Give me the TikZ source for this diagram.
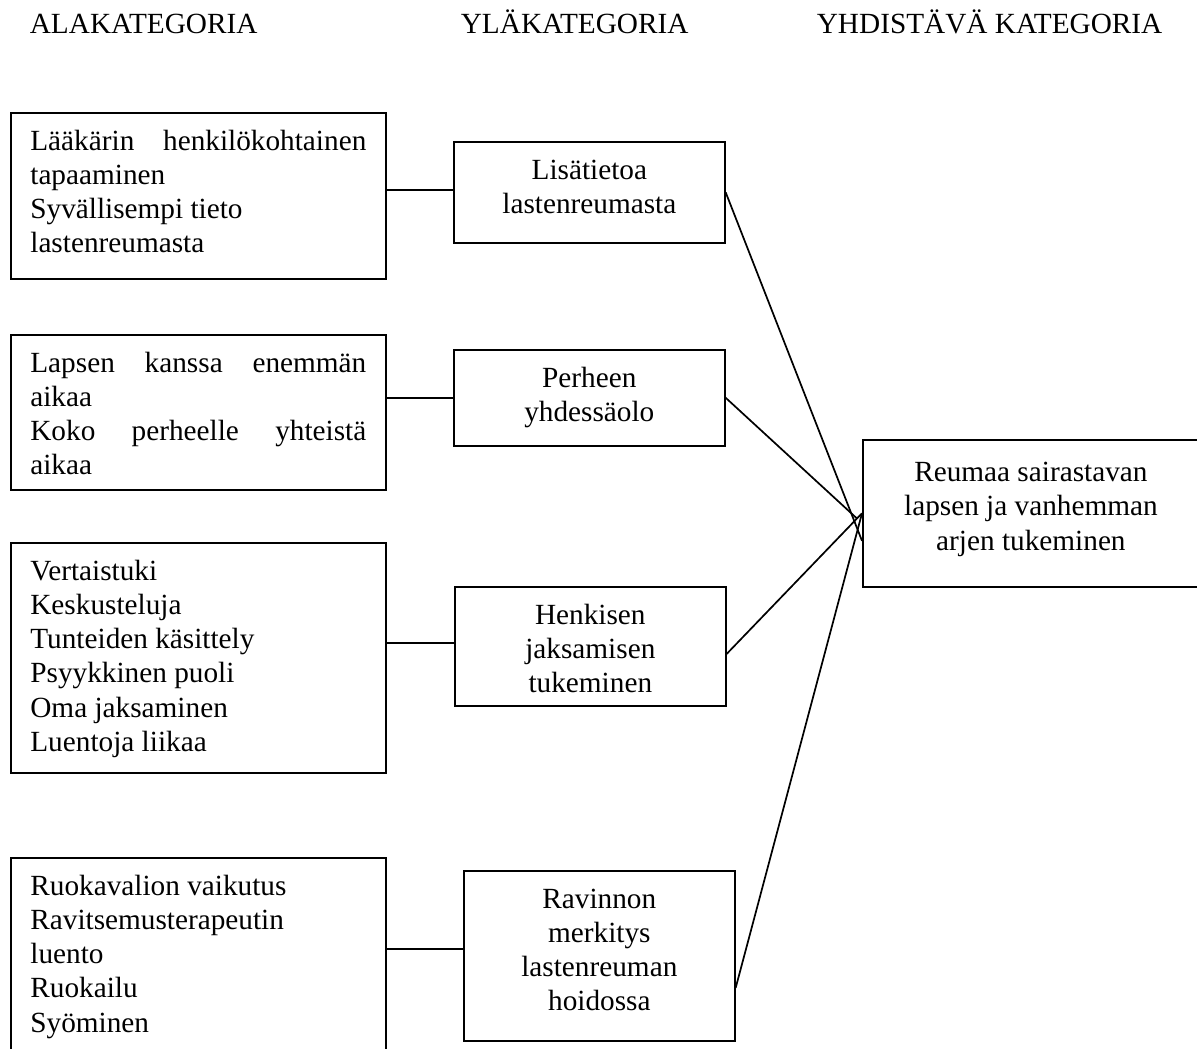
\documentclass[tikz,border=0pt]{standalone}
\usepackage{fontspec}
\setmainfont{Liberation Serif}
\usepackage{tikz}
\hyphenpenalty=10000

\begin{document}
\begin{tikzpicture}[x=0.41pt,y=-0.41pt,
            every node/.style={font=\fontsize{12}{14}\selectfont},
            every path/.style={line width=0.7pt},
            otsikko/.style={anchor=base west,inner sep=0pt},
            ala/.style={draw,anchor=north west,inner xsep=8pt,inner ysep=0pt,text width=137.75pt,align=flush left,text height=15.4pt,text depth=#1},
            yla/.style={draw,anchor=north west,inner xsep=4pt,inner ysep=0pt,text width=103.1pt,align=flush center,text height=15.4pt,text depth=#1}]
            \useasboundingbox (0,0) rectangle (1197,1048);

            \node[otsikko] (hala) at (29,33) {ALAKATEGORIA};
            \node[otsikko] (hyla) at (460,33) {YLÄKATEGORIA};
            \node[otsikko] (hyhd) at (816,33) {YHDISTÄVÄ KATEGORIA};

            \node[ala=52.6pt] (l1) at (10,112) {Lääkärin\hfill henkilökohtainen\\tapaaminen\\Syvällisempi tieto\\lastenreumasta};
            \node[ala=48.1pt] (l2) at (10,334) {Lapsen\hfill kanssa\hfill enemmän\\aikaa\\Koko\hfill perheelle\hfill yhteistä\\aikaa};
            \node[ala=78.9pt] (l3) at (10,542) {Vertaistuki\\Keskusteluja\\Tunteiden käsittely\\Psyykkinen puoli\\Oma jaksaminen\\Luentoja liikaa};
            \node[ala=67.8pt] (l4) at (10,857) {Ruokavalion vaikutus\\Ravitsemusterapeutin\\luento\\Ruokailu\\Syöminen};

            \node[yla=26pt] (m1) at (453,141) {Lisätietoa\\lastenreumasta};
            \node[yla=23.9pt] (m2) at (453,349) {Perheen\\yhdessäolo};
            \node[yla=33.4pt] (m3) at (454,586) {Henkisen\\jaksamisen\\tukeminen};
            \node[yla=54.3pt] (m4) at (463,870) {Ravinnon\\merkitys\\lastenreuman\\hoidossa};

            \node[yla=43pt,text width=129.8pt,text height=17.2pt] (r) at (862,439) {Reumaa sairastavan\\lapsen ja vanhemman\\arjen tukeminen};

            \draw ([yshift=1pt]m1.west) -- ([yshift=1pt]m1.west -| l1.east);
            \draw (m2.west) -- (m2.west -| l2.east);
            \draw ([yshift=1.4pt]m3.west) -- ([yshift=1.4pt]m3.west -| l3.east);
            \draw ([yshift=2.9pt]m4.west) -- ([yshift=2.9pt]m4.west -| l4.east);

            \draw (m1.east) -- ([yshift=-11.3pt]r.west);
            \draw (m2.east) -- ([xshift=-2pt,yshift=-2.2pt]r.west);
            \draw ([yshift=-3.1pt]m3.east) -- (r.west);
            \draw ([yshift=-13.1pt]m4.east) -- (r.west);

        \end{tikzpicture}
\end{document}
